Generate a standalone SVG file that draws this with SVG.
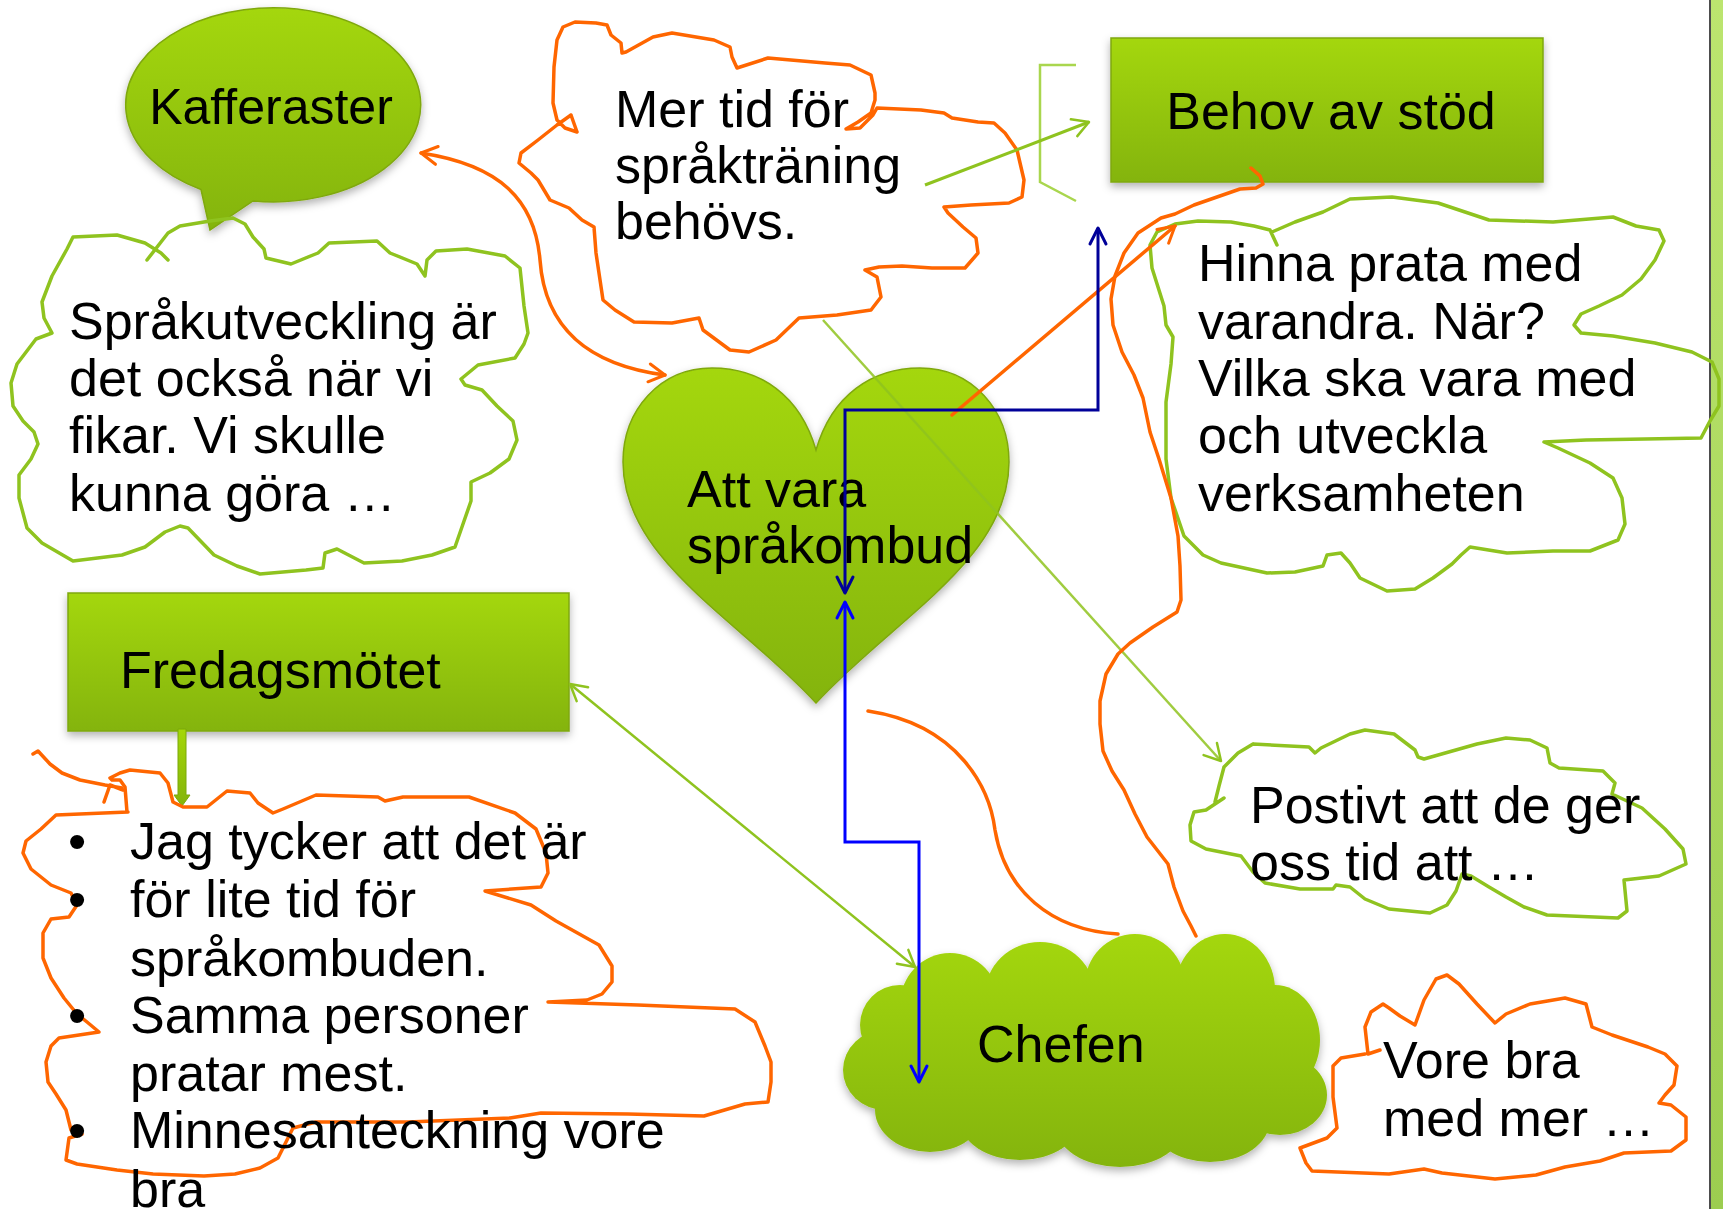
<svg xmlns="http://www.w3.org/2000/svg" width="1723" height="1209" viewBox="0 0 1723 1209">
<defs>
<style>
.t{font-family:"Liberation Sans",Arial,sans-serif;font-size:52px;fill:#000}
.go{fill:none;stroke:#ff6600;stroke-width:3.5;stroke-linejoin:round;stroke-linecap:round}
.gg{fill:none;stroke:#8fc31f;stroke-width:3.5;stroke-linejoin:round;stroke-linecap:round}
.shape{fill:url(#gr);stroke:#7fa80c;stroke-width:1.5}
</style>
<linearGradient id="gr" x1="0" y1="0" x2="0" y2="1">
<stop offset="0" stop-color="#a4d707"/>
<stop offset="1" stop-color="#84b40b"/>
</linearGradient>
<linearGradient id="grc" gradientUnits="userSpaceOnUse" x1="0" y1="934" x2="0" y2="1167">
<stop offset="0" stop-color="#a4d707"/>
<stop offset="1" stop-color="#84b40b"/>
</linearGradient>
<linearGradient id="grb" x1="0" y1="0" x2="0" y2="1">
<stop offset="0" stop-color="#bce56f"/>
<stop offset="1" stop-color="#9ccd50"/>
</linearGradient>
<filter id="sh" x="-10%" y="-10%" width="120%" height="130%">
<feDropShadow dx="0" dy="4" stdDeviation="4" flood-color="#000" flood-opacity="0.3"/>
</filter>
<marker id="mo" markerUnits="userSpaceOnUse" viewBox="-2 -2 24 24" refX="18" refY="10" markerWidth="24" markerHeight="24" orient="auto-start-reverse"><path d="M2,1 L18,10 L2,19" fill="none" stroke="#ff6600" stroke-width="3" stroke-linecap="round" stroke-linejoin="round"/></marker>
<marker id="mg" markerUnits="userSpaceOnUse" viewBox="-2 -2 24 24" refX="18" refY="10" markerWidth="24" markerHeight="24" orient="auto-start-reverse"><path d="M2,1 L18,10 L2,19" fill="none" stroke="#8fc31f" stroke-width="2.5" stroke-linecap="round" stroke-linejoin="round"/></marker>
<marker id="mn" markerUnits="userSpaceOnUse" viewBox="-2 -2 24 24" refX="18" refY="10" markerWidth="24" markerHeight="24" orient="auto-start-reverse"><path d="M2,2 L18,10 L2,18" fill="none" stroke="#000099" stroke-width="3" stroke-linecap="round" stroke-linejoin="round"/></marker>
<marker id="mb" markerUnits="userSpaceOnUse" viewBox="-2 -2 24 24" refX="18" refY="10" markerWidth="24" markerHeight="24" orient="auto-start-reverse"><path d="M2,2 L18,10 L2,18" fill="none" stroke="#0000ff" stroke-width="3" stroke-linecap="round" stroke-linejoin="round"/></marker>
</defs>
<rect width="1723" height="1209" fill="#fff"/>
<g id="border">
<rect x="1711" y="0" width="12" height="1209" fill="url(#grb)"/>
<line x1="1710" y1="0" x2="1710" y2="1209" stroke="#4d4d4d" stroke-width="2"/>
</g>

<g id="kafferaster">
<path class="shape" filter="url(#sh)" d="M201,189.5 A147.5,97 0 1 1 253,201 L210,230 Z"/>
<text class="t" x="271" y="124" text-anchor="middle" style="font-size:50px">Kafferaster</text>
</g>

<g id="sprakutveckling">
<path class="gg" d="M147,260 L168,233 L180,226 L210,221 L233,218 L245,224 L253,237 L264,249 L266,258 L291,264 L318,253 L329,243 L377,241 L390,253 L417,264 L425,276 L427,260 L436,251 L467,249 L505,256 L520,268 L524,306 L528,333 L524,344 L515,358 L478,365 L461,379 L465,385 L482,390 L497,406 L513,421 L517,440 L509,459 L490,473 L471,482 L471,501 L463,524 L455,547 L432,555 L402,561 L364,563 L337,549 L325,553 L323,568 L306,570 L260,574 L237,566 L214,555 L188,528 L180,526 L165,532 L145,547 L122,555 L73,561 L42,543 L27,528 L19,498 L19,475 L31,459 L38,444 L34,432 L23,421 L13,406 L11,383 L17,364 L36,339 L52,333 L44,318 L42,302 L52,276 L67,249 L73,237 L117,235 L145,243 L161,253 L168,260"/>
<text class="t" x="69" y="339">Språkutveckling är</text>
<text class="t" x="69" y="396">det också när vi</text>
<text class="t" x="69" y="453">fikar. Vi skulle</text>
<text class="t" x="69" y="511">kunna göra …</text>
</g>

<g id="mertid">
<path class="go" d="M577,132 L571,115 M571,115 L557,125 L538,140 L521,153 L519,163 L531,173 L538,180 L550,200 L569,208 L582,220 L594,227 L596,253 L603,300 L615,310 L634,322 L672,323 L699,318 L703,330 L730,350 L749,352 L776,340 L799,318 L837,315 L871,310 L881,297 L877,277 L865,270 L879,267 L902,266 L932,268 L965,268 L978,253 L976,238 L963,227 L948,213 L944,207 L971,205 L1009,203 L1022,197 L1024,180 L1017,150 L1005,133 L994,123 L978,122 L952,118 L944,113 L921,110 L877,108 L873,115 L860,128 L846,129 L858,122 L871,113 L875,100 L875,93 L871,75 L850,65 L825,63 L768,58 L737,68 L732,57 L730,47 L714,40 L672,33 L653,37 L626,52 L622,53 L621,43 L611,35 L607,25 L596,23 L575,22 L563,27 L557,40 L554,67 L553,103 L557,120 L565,128 L577,132"/>
<text class="t" x="615" y="127">Mer tid för</text>
<text class="t" x="615" y="183">språkträning</text>
<text class="t" x="615" y="239">behövs.</text>
</g>

<g id="bracket">
<path d="M1076,65 L1040,65 L1040,182 L1076,201" fill="none" stroke="#a9d64e" stroke-width="2.5"/>
</g>

<g id="behov">
<rect class="shape" filter="url(#sh)" x="1111" y="38" width="432" height="144"/>
<text class="t" x="1331" y="129" text-anchor="middle">Behov av stöd</text>
</g>

<g id="hinna">
<path class="gg" d="M1277,245 L1270,230 L1254,226 L1231,222 L1198,221 L1175,224 L1157,232 L1150,245 L1152,268 L1164,306 L1166,325 L1173,337 L1171,364 L1166,402 L1166,459 L1171,498 L1184,536 L1203,555 L1221,563 L1267,573 L1295,572 L1323,566 L1327,555 L1341,553 L1350,563 L1360,578 L1387,591 L1415,589 L1433,578 L1452,564 L1461,555 L1470,547 L1507,553 L1553,551 L1590,551 L1618,540 L1625,524 L1622,498 L1613,478 L1590,463 L1558,448 L1544,442 L1586,440 L1645,439 L1701,438 L1710,421 L1719,406 L1719,379 L1712,362 L1692,352 L1655,343 L1613,336 L1581,333 L1574,325 L1581,314 L1599,306 L1622,295 L1641,279 L1655,260 L1664,241 L1659,230 L1636,226 L1613,217 L1553,222 L1489,220 L1438,203 L1392,197 L1350,199 L1323,212 L1295,222 L1272,232"/>
<text class="t" x="1198" y="281">Hinna prata med</text>
<text class="t" x="1198" y="339">varandra. När?</text>
<text class="t" x="1198" y="396">Vilka ska vara med</text>
<text class="t" x="1198" y="453">och utveckla</text>
<text class="t" x="1198" y="511">verksamheten</text>
</g>

<g id="heart">
<path class="shape" filter="url(#sh)" d="M816,450 C800,395 760,368 712,368 C660,368 623,410 623,462 C623,560 740,620 816,703 C892,620 1009,560 1009,462 C1009,410 972,368 920,368 C872,368 832,395 816,450 Z"/>
<text class="t" x="687" y="507">Att vara</text>
<text class="t" x="687" y="563">språkombud</text>
</g>

<g id="fredagsmotet">
<rect class="shape" filter="url(#sh)" x="68" y="593" width="501" height="138"/>
<text class="t" x="120" y="688">Fredagsmötet</text>
<path d="M178,729 L186,729 L186,795 L190,795 L182,806 L174,795 L178,795 Z" fill="url(#gr)" stroke="#7aa80a" stroke-width="1"/>
</g>

<g id="bullets">
<path class="go" d="M33,754 L38,751 L50,764 L62,773 L80,780 L105,785 L122,788 M104,802 L110,785 L123,790"/>
<path class="go" d="M127,812 L125,787 L120,780 L112,780 L110,778 L120,773 L130,770 L160,773 L168,783 L173,802 L183,807 L207,807 L227,791 L250,793 L258,803 L273,813 L283,809 L316,795 L378,797 L385,801 L403,797 L469,797 L515,813 L536,829 L546,853 L548,873 L541,887 L485,891 L531,905 L556,921 L599,945 L612,966 L612,982 L602,994 L587,1000 L548,1002 L638,1005 L735,1009 L755,1022 L765,1046 L771,1062 L771,1082 L768,1102 L745,1104 L704,1116 L628,1114 L541,1113 L510,1118 L408,1122 L316,1122 L293,1128 L286,1142 L278,1158 L260,1168 L235,1174 L204,1176 L153,1174 L117,1170 L77,1164 L66,1160 L69,1138 L82,1134 L71,1130 L66,1110 L56,1094 L48,1082 L46,1062 L51,1046 L59,1038 L99,1032 L87,1022 L77,1014 L64,998 L51,978 L43,958 L43,933 L51,919 L69,917 L77,905 L71,893 L51,885 L31,869 L23,853 L26,841 L41,829 L56,815 L128,812"/>
<text class="t" x="77" y="859" text-anchor="middle">•</text>
<text class="t" x="77" y="917" text-anchor="middle">•</text>
<text class="t" x="77" y="1033" text-anchor="middle">•</text>
<text class="t" x="77" y="1148" text-anchor="middle">•</text>
<text class="t" x="130" y="859">Jag tycker att det är</text>
<text class="t" x="130" y="917">för lite tid för</text>
<text class="t" x="130" y="976">språkombuden.</text>
<text class="t" x="130" y="1033">Samma personer</text>
<text class="t" x="130" y="1091">pratar mest.</text>
<text class="t" x="130" y="1148">Minnesanteckning vore</text>
<text class="t" x="130" y="1207">bra</text>
</g>

<g id="postivt">
<path class="gg" d="M1253,744 L1309,747 L1315,753 L1321,748 L1350,734 L1365,730 L1394,734 L1415,750 L1418,757 L1424,759 L1477,744 L1506,738 L1530,740 L1547,748 L1550,763 L1559,768 L1603,771 L1615,783 L1612,794 L1642,808 L1665,829 L1683,849 L1686,864 L1659,876 L1624,880 L1627,911 L1618,918 L1547,915 L1524,907 L1506,897 L1489,887 L1471,876 L1462,874 L1456,891 L1447,905 L1430,913 L1389,909 L1365,899 L1350,887 L1336,885 L1333,889 L1300,889 L1265,883 L1253,872 L1241,856 L1206,849 L1191,841 L1190,825 L1194,812 L1206,810 L1224,798 M1215,802 L1219,786 L1224,767 L1238,753 L1253,744"/>
<text class="t" x="1250" y="823">Postivt att de ger</text>
<text class="t" x="1250" y="880">oss tid att …</text>
</g>

<g id="chefen">
<g fill="url(#grc)" filter="url(#sh)">
<ellipse cx="950" cy="1005" rx="50" ry="52"/>
<ellipse cx="1040" cy="995" rx="55" ry="53"/>
<ellipse cx="1135" cy="985" rx="50" ry="51"/>
<ellipse cx="1225" cy="990" rx="50" ry="56"/>
<ellipse cx="1275" cy="1040" rx="45" ry="55"/>
<ellipse cx="1280" cy="1095" rx="47" ry="40"/>
<ellipse cx="1210" cy="1120" rx="60" ry="42"/>
<ellipse cx="1120" cy="1125" rx="65" ry="42"/>
<ellipse cx="1020" cy="1120" rx="60" ry="40"/>
<ellipse cx="930" cy="1110" rx="55" ry="42"/>
<ellipse cx="885" cy="1070" rx="42" ry="40"/>
<ellipse cx="900" cy="1025" rx="40" ry="40"/>
<ellipse cx="1085" cy="1055" rx="200" ry="80"/>
</g>
<text class="t" x="977" y="1062">Chefen</text>
</g>

<g id="vorebra">
<path class="go" d="M1365,1054 L1341,1058 L1333,1066 L1333,1097 L1337,1128 L1327,1138 L1300,1148 L1306,1163 L1312,1171 L1389,1174 L1424,1169 L1442,1173 L1495,1179 L1536,1175 L1565,1167 L1600,1161 L1624,1153 L1671,1151 L1686,1140 L1686,1117 L1671,1105 L1659,1103 L1665,1095 L1674,1085 L1677,1066 L1665,1054 L1648,1047 L1612,1035 L1592,1027 L1586,1004 L1565,998 L1530,1004 L1506,1014 L1495,1023 L1477,1004 L1459,984 L1447,975 L1436,979 L1424,1000 L1415,1025 L1400,1016 L1389,1008 L1383,1004 L1371,1012 L1365,1027 L1368,1054 L1380,1050"/>
<text class="t" x="1383" y="1078">Vore bra</text>
<text class="t" x="1383" y="1136">med mer …</text>
</g>

<g id="connectors">
<path d="M925,185 L1089,122" fill="none" stroke="#8fc31f" stroke-width="3" marker-end="url(#mg)"/>
<path d="M823,320 L1221,761" fill="none" stroke="#8fc31f" stroke-width="2.5" stroke-opacity="0.85" marker-end="url(#mg)"/>
<path d="M570,684 L915,967" fill="none" stroke="#8fc31f" stroke-width="2.5" marker-start="url(#mg)" marker-end="url(#mg)"/>
<path class="go" d="M421,153 C500,165 535,200 540,260 C545,330 590,365 665,375" marker-start="url(#mo)" marker-end="url(#mo)"/>
<path class="go" d="M952,415 L1175,226" marker-end="url(#mo)"/>
<path class="go" d="M868,711 C960,725 990,790 995,830 C1005,890 1050,930 1118,934"/>
<path class="go" d="M1251,168 L1260,176 L1263,184 L1256,188 L1240,189 L1194,205 L1175,214 L1161,218 L1138,233 L1124,253 L1115,276 L1111,299 L1113,325 L1122,352 L1134,375 L1143,398 L1150,432 L1159,459 L1171,498 L1178,536 L1180,566 L1181,600 L1177,612 L1153,627 L1130,643 L1118,654 L1106,674 L1100,701 L1100,724 L1103,751 L1112,771 L1124,790 L1135,814 L1147,837 L1168,864 L1174,887 L1183,911 L1191,926 L1196,936"/>
<path d="M1098,228 V410 H845 V593" fill="none" stroke="#000099" stroke-width="3" marker-start="url(#mn)" marker-end="url(#mn)"/>
<path d="M845,602 V842 H919 V1082" fill="none" stroke="#0000ff" stroke-width="3" marker-start="url(#mb)" marker-end="url(#mb)"/>
</g>
</svg>
